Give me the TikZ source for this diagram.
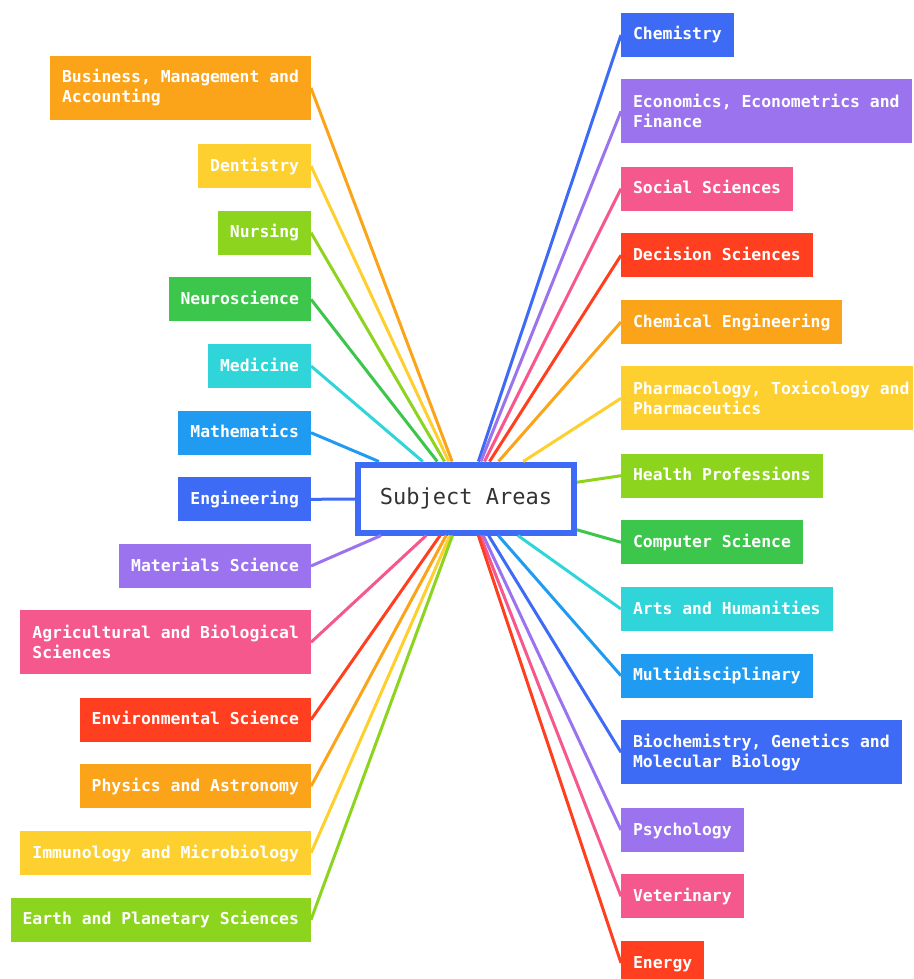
\documentclass[tikz,border=0pt]{standalone}
\usepackage{fontspec}
\setmonofont{DejaVu Sans Mono}
\definecolor{cOrange}{HTML}{FBA41A}
\definecolor{cYellow}{HTML}{FDD02F}
\definecolor{cLime}{HTML}{8DD41F}
\definecolor{cGreen}{HTML}{3CC64B}
\definecolor{cCyan}{HTML}{2FD5D8}
\definecolor{cSky}{HTML}{1F9CF2}
\definecolor{cBlue}{HTML}{3D6BF5}
\definecolor{cPurple}{HTML}{9C73EF}
\definecolor{cPink}{HTML}{F5588C}
\definecolor{cRed}{HTML}{FF3F1F}
\definecolor{cText}{HTML}{333333}
\tikzset{
  box/.style={fill=#1, text=white, inner xsep=12pt, inner ysep=0pt, outer sep=0pt,
    font=\ttfamily\bfseries\fontsize{16.4}{20}\selectfont, align=left},
  one/.style={box=#1, minimum height=44pt, text height=13pt, text depth=3pt},
  two/.style={box=#1, minimum height=64pt},
  lft/.style={anchor=north east},
  rgt/.style={anchor=north west},
  link/.style={line width=3pt, draw=#1},
  hub/.style={draw=cBlue, line width=6pt, fill=white, minimum width=216pt, minimum height=68pt,
    text=cText, font=\ttfamily\fontsize{22}{26}\selectfont}
}
\begin{document}
\begin{tikzpicture}[x=1pt,y=-1pt]
\useasboundingbox (0,0) rectangle (913,979);
\clip (0,0) rectangle (913,979);
\node[hub] (C) at (466,498.5) {Subject Areas};
% left
\node[two=cOrange,lft] (L1) at (311,56) {Business, Management and\\Accounting};
\node[one=cYellow,lft] (L2) at (311,144) {Dentistry};
\node[one=cLime,lft] (L3) at (311,210.7) {Nursing};
\node[one=cGreen,lft] (L4) at (311,277.3) {Neuroscience};
\node[one=cCyan,lft] (L5) at (311,344) {Medicine};
\node[one=cSky,lft] (L6) at (311,410.7) {Mathematics};
\node[one=cBlue,lft] (L7) at (311,477.3) {Engineering};
\node[one=cPurple,lft] (L8) at (311,544) {Materials Science};
\node[two=cPink,lft] (L9) at (311,610.3) {Agricultural and Biological\\Sciences};
\node[one=cRed,lft] (L10) at (311,697.7) {Environmental Science};
\node[one=cOrange,lft] (L11) at (311,764.3) {Physics and Astronomy};
\node[one=cYellow,lft] (L12) at (311,831) {Immunology and Microbiology};
\node[one=cLime,lft] (L13) at (311,897.7) {Earth and Planetary Sciences};
% right
\node[one=cBlue,rgt] (R1) at (621,13) {Chemistry};
\node[two=cPurple,rgt] (R2) at (621,79.3) {Economics, Econometrics and\\Finance};
\node[one=cPink,rgt] (R3) at (621,166.7) {Social Sciences};
\node[one=cRed,rgt] (R4) at (621,233.3) {Decision Sciences};
\node[one=cOrange,rgt] (R5) at (621,300) {Chemical Engineering};
\node[two=cYellow,rgt] (R6) at (621,366.3) {Pharmacology, Toxicology and\\Pharmaceutics};
\node[one=cLime,rgt] (R7) at (621,453.7) {Health Professions};
\node[one=cGreen,rgt] (R8) at (621,520.3) {Computer Science};
\node[one=cCyan,rgt] (R9) at (621,587) {Arts and Humanities};
\node[one=cSky,rgt] (R10) at (621,653.7) {Multidisciplinary};
\node[two=cBlue,rgt] (R11) at (621,720.3) {Biochemistry, Genetics and\\Molecular Biology};
\node[one=cPurple,rgt] (R12) at (621,808) {Psychology};
\node[one=cPink,rgt] (R13) at (621,874.3) {Veterinary};
\node[one=cRed,rgt] (R14) at (621,941) {Energy};
% links
\foreach \n/\c in {L1/cOrange,L2/cYellow,L3/cLime,L4/cGreen,L5/cCyan,L6/cSky,L7/cBlue,L8/cPurple,L9/cPink,L10/cRed,L11/cOrange,L12/cYellow,L13/cLime}
  \draw[link=\c] (\n.east) -- (C);
\foreach \n/\c in {R1/cBlue,R2/cPurple,R3/cPink,R4/cRed,R5/cOrange,R6/cYellow,R7/cLime,R8/cGreen,R9/cCyan,R10/cSky,R11/cBlue,R12/cPurple,R13/cPink,R14/cRed}
  \draw[link=\c] (\n.west) -- (C);
\end{tikzpicture}
\end{document}
